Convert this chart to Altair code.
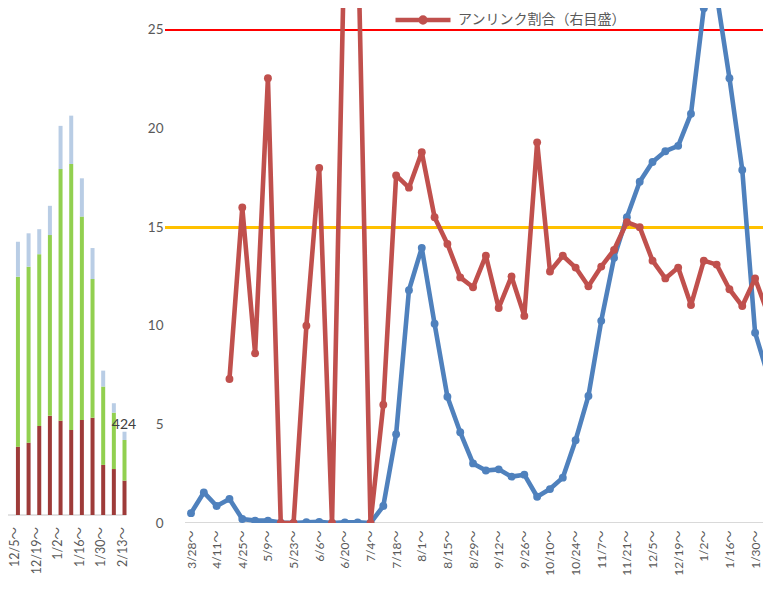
import altair as alt
import pandas as pd

# ---------------- data ----------------
weeks = ["3/28", "4/4", "4/11", "4/18", "4/25", "5/2", "5/9", "5/16", "5/23", "5/30",
         "6/6", "6/13", "6/20", "6/27", "7/4", "7/11", "7/18", "7/25", "8/1", "8/8",
         "8/15", "8/22", "8/29", "9/5", "9/12", "9/19", "9/26", "10/3", "10/10", "10/17",
         "10/24", "10/31", "11/7", "11/14", "11/21", "11/28", "12/5", "12/12", "12/19", "12/26",
         "1/2", "1/9", "1/16", "1/23", "1/30", "2/6"]

blue_vals = [0.5, 1.55, 0.86, 1.22, 0.2, 0.12, 0.12, 0.02, 0.0, 0.04,
             0.06, 0.0, 0.03, 0.03, 0.0, 0.86, 4.5, 11.8, 13.95, 10.1,
             6.4, 4.6, 3.02, 2.66, 2.72, 2.35, 2.45, 1.33, 1.72, 2.3,
             4.2, 6.44, 10.25, 13.45, 15.5, 17.3, 18.3, 18.85, 19.12, 20.75,
             26.1, 26.8, 22.55, 17.9, 9.65, 7.5]

red_vals = [None, None, None, 7.3, 16.0, 8.6, 22.55, 0.0, 0.0, 10.0,
            18.0, 0.0, 30.5, 30.5, 0.0, 6.0, 17.62, 17.0, 18.8, 15.5,
            14.15, 12.45, 11.95, 13.55, 10.9, 12.5, 10.5, 19.3, 12.75, 13.55,
            12.95, 12.0, 13.0, 13.85, 15.25, 15.0, 13.3, 12.4, 12.95, 11.05,
            13.3, 13.1, 11.85, 11.0, 12.4, 10.6]

blue_name = "新規陽性者数"
red_name = "アンリンク割合（右目盛）"
line_colors = ["#4F81BD", "#C0504D"]

bar_weeks = ["12/5", "12/12", "12/19", "12/26", "1/2", "1/9", "1/16", "1/23", "1/30", "2/6", "2/13"]
bar_red = [348, 368, 453, 505, 480, 433, 484, 495, 255, 234, 175]
bar_green = [865, 896, 875, 920, 1281, 1354, 1035, 706, 399, 287, 207]
bar_blue = [178, 170, 127, 149, 220, 246, 195, 158, 81, 48, 42]
seg_names = ["区分A", "区分B", "区分C"]
seg_colors = ["#9E3B39", "#92D050", "#B9CDE5"]

thresholds = [25, 15]
threshold_colors = ["#FF0000", "#FFC000"]

GRAY = "#595959"
NUM_FONT = "Lato, 'Noto Sans CJK JP'"

# ---------------- scales ----------------
xl_scale = alt.Scale(domain=[-14.275, 44.617], nice=False, zero=False)
yl_scale = alt.Scale(domain=[0, 26.11], nice=False, zero=False)
xb_scale = alt.Scale(domain=[-0.463, 69.444], nice=False, zero=False)
yb_scale = alt.Scale(domain=[-40.7, 2581], nice=False, zero=False)

# ---------------- line chart ----------------
blue_df = pd.DataFrame({"idx": list(range(len(weeks))), "value": blue_vals, "series": blue_name})
red_df = pd.DataFrame({"idx": list(range(len(weeks))), "value": red_vals,
                       "series": red_name}).dropna()

label_js = "[" + ",".join("'" + w + "～'" for w in weeks) + "][datum.value]"

x_axis = alt.Axis(orient="bottom", values=list(range(0, 45, 2)), labelExpr=label_js,
                  labelAngle=270, labelFont=NUM_FONT, labelFontSize=12, labelColor=GRAY,
                  labelPadding=7, ticks=False, tickSize=0, domain=False, grid=False,
                  labelOverlap=False, labelBound=False, labelFlush=False)
y_axis = alt.Axis(orient="left", values=[0, 5, 10, 15, 20, 25], offset=-170,
                  labelFont=NUM_FONT, labelFontSize=13.5, labelColor=GRAY, labelPadding=15,
                  ticks=False, tickSize=0, domain=False, grid=False)

color_scale = alt.Scale(domain=[blue_name, red_name], range=line_colors)
legend = alt.Legend(
    values=[red_name], orient="none", legendX=385, legendY=-18, title=None,
    symbolType="M-1,0L1,0M-0.09,0A0.09,0.09,0,1,1,0.09,0A0.09,0.09,0,1,1,-0.09,0Z",
    symbolSize=3025, symbolStrokeWidth=4.5, symbolFillColor="#C0504D",
    symbolStrokeColor="#C0504D", labelFont="'Noto Sans CJK JP'", labelFontSize=14,
    labelColor=GRAY, labelOffset=5, labelLimit=400, padding=0,
)

layers = []

# bar chart baseline
bar_tot = [r + g + b for r, g, b in zip(bar_red, bar_green, bar_blue)]
tot_df = pd.DataFrame({"idx": [len(bar_weeks) - 1], "total": [bar_tot[-1]]})
layers.append(
    alt.Chart(tot_df).mark_rule(color="#D9D9D9", strokeWidth=1.5, clip=True).encode(
        x=alt.X(datum=-1, scale=xb_scale, axis=None),
        x2=alt.X2(datum=10.5),
        y=alt.Y(datum=0, scale=yb_scale, axis=None),
    )
)

# stacked bars
rows = []
for i, w in enumerate(bar_weeks):
    for o, (name, vals) in enumerate(zip(seg_names, [bar_red, bar_green, bar_blue])):
        rows.append({"idx": i, "seg": name, "ord": o, "value": vals[i]})
bar_df = pd.DataFrame(rows)
layers.append(
    alt.Chart(bar_df).mark_bar(size=4, clip=True).encode(
        x=alt.X("idx:Q", scale=xb_scale, axis=None, title=None),
        y=alt.Y("value:Q", stack="zero", scale=yb_scale, axis=None, title=None),
        color=alt.Color("seg:N", scale=alt.Scale(domain=seg_names, range=seg_colors), legend=None),
        order=alt.Order("ord:Q", sort="ascending"),
    )
)

# total label
layers.append(
    alt.Chart(tot_df).mark_text(align="center", baseline="bottom", dx=3, dy=0,
                                fontSize=14, font=NUM_FONT, color="#404040").encode(
        x=alt.X("idx:Q", scale=xb_scale, axis=None, title=None),
        y=alt.Y("total:Q", scale=yb_scale, axis=None, title=None),
        text=alt.Text("total:Q"),
    )
)

# bar week labels
blab_df = pd.DataFrame({"idx": list(range(0, len(bar_weeks), 2)),
                        "label": [w + "～" for w in bar_weeks[0::2]]})
layers.append(
    alt.Chart(blab_df).mark_text(angle=270, align="right", baseline="middle",
                                 dx=-12, dy=2, fontSize=12.5, font=NUM_FONT,
                                 color=GRAY).encode(
        x=alt.X("idx:Q", scale=xb_scale, axis=None, title=None),
        y=alt.Y(datum=0, scale=yb_scale, axis=None),
        text="label:N",
    )
)

# line chart baseline and threshold lines
layers.append(
    alt.Chart(blue_df).mark_rule(color="#D9D9D9", strokeWidth=2, clip=True).encode(
        x=alt.X(datum=-0.45, scale=xl_scale, axis=None),
        x2=alt.X2(datum=46),
        y=alt.Y(datum=0, scale=yl_scale, axis=None),
    )
)
for t, c in zip(thresholds, threshold_colors):
    layers.append(
        alt.Chart(blue_df).mark_rule(color=c, strokeWidth=2, clip=True).encode(
            x=alt.X(datum=-2.0, scale=xl_scale, axis=None),
            x2=alt.X2(datum=46),
            y=alt.Y(datum=t, scale=yl_scale, axis=None),
        )
    )

# blue series (carries the axes)
layers.append(
    alt.Chart(blue_df).mark_line(strokeWidth=4.6, clip=True, color=line_colors[0],
                                 strokeJoin="round", strokeCap="round").encode(
        x=alt.X("idx:Q", scale=xl_scale, axis=x_axis, title=None),
        y=alt.Y("value:Q", scale=yl_scale, axis=y_axis, title=None),
    )
)
layers.append(
    alt.Chart(blue_df).mark_point(filled=True, size=62, opacity=1, clip=True,
                                  color=line_colors[0]).encode(
        x=alt.X("idx:Q", scale=xl_scale, axis=None, title=None),
        y=alt.Y("value:Q", scale=yl_scale, axis=None, title=None),
    )
)
# red series (carries the legend)
layers.append(
    alt.Chart(red_df).mark_line(strokeWidth=4.6, clip=True, strokeJoin="round",
                                strokeCap="round").encode(
        x=alt.X("idx:Q", scale=xl_scale, axis=None, title=None),
        y=alt.Y("value:Q", scale=yl_scale, axis=None, title=None),
        color=alt.Color("series:N", scale=color_scale, legend=legend),
    )
)
layers.append(
    alt.Chart(red_df).mark_point(filled=True, size=62, opacity=1, clip=True,
                                 color=line_colors[1]).encode(
        x=alt.X("idx:Q", scale=xl_scale, axis=None, title=None),
        y=alt.Y("value:Q", scale=yl_scale, axis=None, title=None),
    )
)

chart = alt.layer(*layers).resolve_scale(
    x="independent", y="independent", color="independent"
).properties(
    width=755, height=515,
    autosize=alt.AutoSizeParams(type="none"),
    padding={"left": 0, "top": 0, "right": 0, "bottom": 55},
    background="white",
).configure_view(stroke=None)

chart.save("out.html", embed_options={"renderer": "svg", "actions": False})
